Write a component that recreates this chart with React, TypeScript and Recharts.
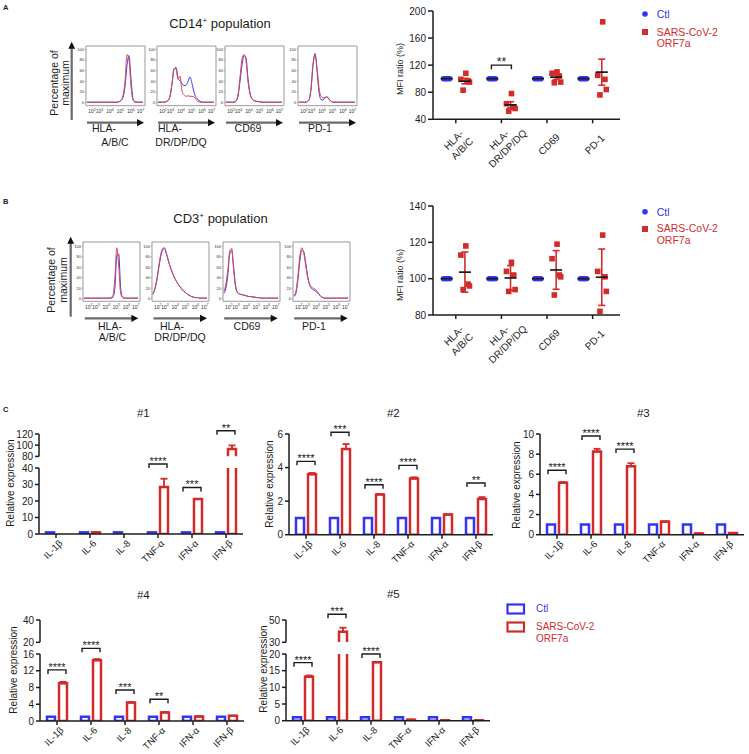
import React from "react";
import {
  LineChart, Line, XAxis, YAxis, ReferenceArea, ReferenceDot,
  ScatterChart, Scatter, ErrorBar, ComposedChart, Bar,
} from "recharts";

const FONT = '"Liberation Sans", Arial, Helvetica, sans-serif';
const BLUE = "#3434f4";
const RED = "#d22b2b";
const INK = "#1c1c1c";

// ─── Flow histograms: x in decade units, y in % of max ────────────────────────
const U = [1.6, 1.8, 2.0, 2.2, 2.4, 2.6, 2.8, 3.0, 3.2, 3.4, 3.6, 3.8, 4.0, 4.2, 4.4, 4.6, 4.8, 5.0, 5.2, 5.4, 5.6, 5.8, 6.0, 6.2, 6.4, 6.6, 6.8, 7.0, 7.2];
const DECADE_POS = [2.1, 2.85, 3.9, 4.95, 6.0, 6.95];
const DECADE_EXP = ["2", "3", "4", "5", "6", "7"];
const PCT_TICKS = [0, 20, 40, 60, 80, 100];

// CD14+ population
const A1_BLUE = [1, 1, 1, 1, 1, 1, 1, 1, 1, 1, 1, 1, 1, 1, 1, 1, 2, 4, 10, 30, 70, 88, 45, 8, 2, 1, 1, 1, 1];
const A1_RED = [1, 1, 1, 1, 1, 1, 1, 1, 1, 1, 1, 1, 1, 1, 1, 1, 2, 5, 14, 40, 90, 80, 30, 5, 1, 1, 1, 1, 1];
const A2_BLUE = [1, 1, 1, 1, 2, 4, 12, 35, 62, 66, 46, 41, 36, 32, 33, 40, 48, 36, 20, 10, 6, 3, 1, 1, 1, 1, 1, 1, 1];
const A2_RED = [1, 1, 1, 1, 2, 4, 12, 36, 64, 64, 44, 50, 22, 15, 12, 13, 12, 12, 11, 6, 2, 1, 1, 1, 1, 1, 1, 1, 1];
const A3_BLUE = [1, 1, 1, 1, 1, 3, 12, 40, 70, 88, 84, 45, 18, 8, 4, 3, 2, 2, 1, 1, 1, 1, 1, 1, 1, 1, 1, 1, 1];
const A3_RED = [1, 1, 1, 1, 1, 4, 15, 48, 82, 90, 78, 40, 16, 7, 4, 3, 2, 2, 1, 1, 1, 1, 1, 1, 1, 1, 1, 1, 1];
const A4_BLUE = [1, 1, 1, 1, 2, 5, 25, 70, 92, 60, 20, 6, 5, 9, 11, 7, 3, 1, 1, 1, 1, 1, 1, 1, 1, 1, 1, 1, 1];
const A4_RED = [1, 1, 1, 1, 2, 6, 28, 72, 90, 66, 28, 12, 9, 10, 11, 6, 3, 1, 1, 1, 1, 1, 1, 1, 1, 1, 1, 1, 1];

// CD3+ population
const B1_BLUE = [1, 1, 1, 1, 1, 1, 1, 1, 1, 1, 1, 1, 1, 1, 1, 3, 20, 82, 85, 20, 3, 1, 1, 1, 1, 1, 1, 1, 1];
const B1_RED = [1, 1, 1, 1, 1, 1, 1, 1, 1, 1, 1, 1, 1, 1, 2, 6, 40, 97, 60, 10, 2, 1, 1, 1, 1, 1, 1, 1, 1];
const B2_BLUE = [8, 18, 35, 58, 80, 93, 95, 85, 72, 60, 50, 41, 34, 28, 23, 18, 14, 11, 8, 6, 4, 3, 2, 2, 1, 1, 1, 1, 1];
const B2_RED = [9, 20, 38, 62, 84, 96, 97, 86, 72, 60, 50, 41, 34, 28, 23, 18, 14, 11, 8, 6, 4, 3, 2, 2, 1, 1, 1, 1, 1];
const B3_BLUE = [10, 20, 45, 85, 92, 60, 25, 12, 9, 8, 7, 6, 5, 4, 4, 3, 3, 2, 2, 1, 1, 1, 1, 1, 1, 1, 1, 1, 1];
const B3_RED = [14, 28, 55, 92, 96, 55, 22, 11, 9, 8, 7, 6, 5, 4, 4, 3, 3, 2, 2, 1, 1, 1, 1, 1, 1, 1, 1, 1, 1];
const B4_BLUE = [4, 10, 35, 70, 92, 90, 70, 45, 28, 20, 17, 15, 12, 8, 4, 2, 1, 1, 1, 1, 1, 1, 1, 1, 1, 1, 1, 1, 1];
const B4_RED = [6, 14, 42, 80, 97, 88, 65, 42, 28, 22, 20, 18, 14, 9, 4, 2, 1, 1, 1, 1, 1, 1, 1, 1, 1, 1, 1, 1, 1];

// ─── MFI ratio scatter ────────────────────────────────────────────────────────
const MARKER_LINES = [["HLA-", "A/B/C"], ["HLA-", "DR/DP/DQ"], ["CD69"], ["PD-1"]];
const CTL_MFI = [100, 100, 100, 100, 100];
const CD14_ORF = [[108, 99, 97, 95, 83], [78, 63, 58, 56, 52], [110, 108, 104, 95, 94], [184, 105, 99, 84, 76]];
const CD3_ORF = [[118, 113, 97, 96, 94], [109, 104, 102, 94, 93], [119, 111, 102, 101, 91], [124, 104, 101, 93, 82]];

// ─── qPCR relative expression ─────────────────────────────────────────────────
const GENES = ["IL-1β", "IL-6", "IL-8", "TNF-α", "IFN-α", "IFN-β"];
const CTL_REL = [1, 1, 1, 1, 1, 1];

const D1_ORF = [0, 1, 0, 28.5, 21.2, 93.2];
const D1_ERR = [0, 0, 0, 5, 0, 6.4];
const D1_SIG_AT = [null, null, null, 42.4, 28.2, 125.9];
const D1_SIG = ["", "", "", "****", "***", "**"];

const D2_ORF = [3.6, 5.1, 2.4, 3.35, 1.2, 2.12];
const D2_ERR = [0.08, 0.3, 0.03, 0.07, 0, 0.12];
const D2_SIG_AT = [4.37, 6.1, 2.98, 4.13, null, 3.08];
const D2_SIG = ["****", "***", "****", "****", "", "**"];

const D3_ORF = [5.15, 8.25, 6.8, 1.3, 0.12, 0.18];
const D3_ERR = [0.08, 0.28, 0.3, 0, 0, 0];
const D3_SIG_AT = [6.4, 9.8, 8.5, null, null, null];
const D3_SIG = ["****", "****", "****", "", "", ""];

const D4_ORF = [9.0, 14.5, 4.4, 2.05, 1.1, 1.25];
const D4_ERR = [0.35, 0.3, 0.1, 0.1, 0, 0];
const D4_SIG_AT = [12.2, 17.35, 7.4, 5.2, null, null];
const D4_SIG = ["****", "****", "***", "**", "", ""];

const D5_ORF = [13.2, 39.5, 17.5, 0.3, 0.15, 0.15];
const D5_ERR = [0.35, 3.6, 0.1, 0, 0, 0];
const D5_SIG_AT = [17.4, 55.1, 20.0, null, null, null];
const D5_SIG = ["****", "***", "****", "", "", ""];

// ─── layout constants ─────────────────────────────────────────────────────────
const CTL_JITTER = [-0.07, -0.035, 0, 0.035, 0.07];
const ORF_JITTER = [0.02, -0.09, 0.07, 0.1, -0.04];

const mean = (a: number[]) => a.reduce((s, v) => s + v, 0) / a.length;
const sd = (a: number[]) => {
  const m = mean(a);
  return Math.sqrt(a.reduce((s, v) => s + (v - m) ** 2, 0) / (a.length - 1));
};
const sem = (a: number[]) => sd(a) / Math.sqrt(a.length);

// ─── Histogram ────────────────────────────────────────────────────────────────
function DecadeTick(props: any) {
  const { x, y, index } = props;
  return (
    <text x={x} y={y + 7.5} textAnchor="middle" fontSize={5} fill="#333">
      10<tspan dy={-2.6} fontSize={3.6}>{DECADE_EXP[index]}</tspan>
    </text>
  );
}

function Histogram({ left, top, w, h, domainY, blue, red }: {
  left: number; top: number; w: number; h: number; domainY: [number, number]; blue: number[]; red: number[];
}) {
  const data = U.map((u, i) => ({ u, b: blue[i], r: red[i] }));
  return (
    <div style={{ position: "absolute", left: left - 12, top: top - 2 }}>
      <LineChart width={w + 14} height={h + 14} data={data} margin={{ top: 2, right: 2, bottom: 0, left: 0 }}>
        <XAxis type="number" dataKey="u" domain={[1.5, 7.4]} ticks={DECADE_POS} interval={0}
               tick={<DecadeTick />} tickSize={0} tickMargin={0} axisLine={false} tickLine={false}
               height={12} allowDataOverflow />
        <YAxis type="number" domain={domainY} ticks={PCT_TICKS} interval={0} width={12}
               tickSize={1.5} tickMargin={0.5} axisLine={false} tickLine={{ stroke: "#888", strokeWidth: 0.6 }}
               tick={{ fontSize: 4, fill: "#333" }} allowDataOverflow />
        <ReferenceArea x1={1.5} x2={7.4} y1={domainY[0]} y2={domainY[1]} stroke="#9a9a9a" strokeWidth={1}
                       fill="none" fillOpacity={0} />
        <Line dataKey="b" type="monotone" stroke={BLUE} strokeWidth={1} dot={false} isAnimationActive={false} />
        <Line dataKey="r" type="monotone" stroke="#e04848" strokeWidth={1} dot={false} isAnimationActive={false} />
      </LineChart>
    </div>
  );
}

// ─── Significance bracket ─────────────────────────────────────────────────────
function Bracket({ cx, cy, half, label, size }: { cx: number; cy: number; half: number; label: string; size: number }) {
  if (cx == null || cy == null) return <g />;
  return (
    <g>
      <path d={`M${cx - half},${cy + 4}V${cy}H${cx + half}V${cy + 4}`} fill="none" stroke={INK} strokeWidth={1.4} />
      <text x={cx} y={cy + 1} textAnchor="middle" fontSize={size} fill={INK}>{label}</text>
    </g>
  );
}

// ─── MFI scatter ──────────────────────────────────────────────────────────────
function MarkerTick(props: any) {
  const { x, y, payload } = props;
  const lines = MARKER_LINES[Math.round(payload.value) - 1] ?? [];
  return (
    <g transform={`translate(${x + 2},${y + 19}) rotate(-45)`}>
      {lines.map((l, k) => (
        <text key={k} x={0} y={(k - (lines.length - 1) / 2) * 12 + 3.5} textAnchor="middle" fontSize={10} fill={INK}>
          {l}
        </text>
      ))}
    </g>
  );
}

function MfiPanel({ top, plotH, domain, ticks, orf, spread, sigs }: {
  top: number; plotH: number; domain: [number, number]; ticks: number[]; orf: number[][];
  spread: (a: number[]) => number; sigs: { x: number; y: number; label: string }[];
}) {
  const axisX = 433;
  const ctlPts = orf.flatMap((_, i) => CTL_MFI.map((v, j) => ({ x: i + 1 - 0.2 + CTL_JITTER[j], y: v })));
  const orfPts = orf.flatMap((vals, i) => vals.map((v, j) => ({ x: i + 1 + 0.2 + ORF_JITTER[j], y: v })));
  const ctlMean = orf.map((_, i) => ({ x: i + 1 - 0.2, y: mean(CTL_MFI) }));
  const orfMean = orf.map((vals, i) => ({ x: i + 1 + 0.2, y: mean(vals), e: spread(vals) }));
  const meanShape = (p: any) => (
    <line x1={p.cx - 6} x2={p.cx + 6} y1={p.cy} y2={p.cy} stroke={INK} strokeWidth={1.7} />
  );
  const axisStyle = { stroke: INK, strokeWidth: 1.5 };
  return (
    <div style={{ position: "absolute", left: axisX - 40, top: top - 12 }}>
      <ScatterChart width={40 + 187 + 4} height={12 + plotH + 62} margin={{ top: 12, right: 4, bottom: 0, left: 0 }}>
        <XAxis type="number" dataKey="x" domain={[0.5, 4.6]} ticks={[1, 2, 3, 4]} interval={0}
               tick={<MarkerTick />} tickSize={4} tickMargin={2} height={62}
               axisLine={axisStyle} tickLine={axisStyle} allowDataOverflow />
        <YAxis type="number" dataKey="y" domain={domain} ticks={ticks} interval={0} width={40}
               tickSize={5} tickMargin={2} axisLine={axisStyle} tickLine={axisStyle}
               tick={{ fontSize: 10, fill: INK }} allowDataOverflow />
        <Scatter data={ctlPts} isAnimationActive={false}
                 shape={(p: any) => <circle cx={p.cx} cy={p.cy} r={2.7} fill={BLUE} />} />
        <Scatter data={orfPts} isAnimationActive={false}
                 shape={(p: any) => <rect x={p.cx - 2.8} y={p.cy - 2.8} width={5.6} height={5.6} fill={RED} />} />
        <Scatter data={ctlMean} isAnimationActive={false} shape={meanShape} />
        <Scatter data={orfMean} isAnimationActive={false} shape={meanShape}>
          <ErrorBar dataKey="e" direction="y" width={3.5} stroke={RED} strokeWidth={1.6} isAnimationActive={false} />
        </Scatter>
        {sigs.map((s) => (
          <ReferenceDot key={s.x} x={s.x} y={s.y} r={0} ifOverflow="visible"
                        shape={(p: any) => <Bracket cx={p.cx} cy={p.cy} half={10} label={s.label} size={12} />} />
        ))}
      </ScatterChart>
    </div>
  );
}

// ─── Relative expression bars ─────────────────────────────────────────────────
type Seg = { top: number; bottom: number; domain: [number, number]; ticks: number[] };
const PAD_L = 34;
const PAD_T = 26;
const PAD_HI_B = 9;
const PLOT_W = 34 * 6;

function GeneTick(props: any) {
  const { x, y, payload } = props;
  return (
    <text transform={`translate(${x + 7},${y + 4}) rotate(-45)`} textAnchor="end" fontSize={9.5} fill={INK}>
      {payload.value}
    </text>
  );
}

const openBottom = (color: string) => (p: any) => {
  if (!(p.height > 0)) return <g />;
  const { x, y, width, height } = p;
  return (
    <path d={`M${x},${y + height}V${y}H${x + width}V${y + height}`} fill="#fff" stroke={color} strokeWidth={2.5} />
  );
};

function ExprPanel({ axisX, lo, hi, orf, err, sigAt, sig }: {
  axisX: number; lo: Seg; hi?: Seg; orf: number[]; err: number[]; sigAt: (number | null)[]; sig: string[];
}) {
  const rows = GENES.map((g, i) => ({ g, ctl: CTL_REL[i], orf: orf[i], err: [0, err[i]] }));
  const axisStyle = { stroke: INK, strokeWidth: 1.5 };
  const yProps = {
    width: PAD_L, tickSize: 4, tickMargin: 2, axisLine: axisStyle, tickLine: axisStyle,
    tick: { fontSize: 10, fill: INK }, allowDataOverflow: true, interval: 0 as const,
  };
  const marks = (isHi: boolean) =>
    GENES.map((g, i) => {
      const v = sigAt[i];
      if (v == null) return null;
      const inHi = !!hi && v >= hi.domain[0];
      if (inHi !== isHi) return null;
      return (
        <ReferenceDot key={g} x={g} y={v} r={0} ifOverflow="visible"
                      shape={(p: any) => <Bracket cx={p.cx} cy={p.cy} half={9} label={sig[i]} size={11} />} />
      );
    });

  let upper = null;
  if (hi) {
    const hiMin = hi.domain[0];
    const hiRows = rows.map((r) => ({
      g: r.g, ctl: null,
      orf: r.orf >= hiMin ? r.orf : null,
      err: r.orf >= hiMin ? r.err : null,
    }));
    upper = (
      <div style={{ position: "absolute", left: axisX - PAD_L, top: hi.top - PAD_T }}>
        <ComposedChart width={PAD_L + PLOT_W + 8} height={PAD_T + hi.bottom - hi.top + PAD_HI_B} data={hiRows}
                       margin={{ top: PAD_T, right: 8, bottom: PAD_HI_B, left: 0 }} barSize={8} barGap={4}>
          <XAxis dataKey="g" hide />
          <YAxis type="number" domain={hi.domain} ticks={hi.ticks} {...yProps} />
          <Bar dataKey="ctl" fill="#fff" stroke={BLUE} strokeWidth={2.5} isAnimationActive={false} />
          <Bar dataKey="orf" fill="#fff" stroke={RED} strokeWidth={2.5} shape={openBottom(RED)} isAnimationActive={false}>
            <ErrorBar dataKey="err" direction="y" width={3.5} stroke={RED} strokeWidth={1.8} isAnimationActive={false} />
          </Bar>
          {marks(true)}
        </ComposedChart>
      </div>
    );
  }

  return (
    <>
      {upper}
      <div style={{ position: "absolute", left: axisX - PAD_L, top: lo.top - PAD_T }}>
        <ComposedChart width={PAD_L + PLOT_W + 8} height={PAD_T + lo.bottom - lo.top + 44} data={rows}
                       margin={{ top: PAD_T, right: 8, bottom: 0, left: 0 }} barSize={8} barGap={4}>
          <XAxis dataKey="g" interval={0} height={44} tickSize={4} tickMargin={2} tick={<GeneTick />}
                 axisLine={axisStyle} tickLine={axisStyle} />
          <YAxis type="number" domain={lo.domain} ticks={lo.ticks} {...yProps} />
          <Bar dataKey="ctl" fill="#fff" stroke={BLUE} strokeWidth={2.5} isAnimationActive={false} />
          <Bar dataKey="orf" fill="#fff" stroke={RED} strokeWidth={2.5} isAnimationActive={false}>
            <ErrorBar dataKey="err" direction="y" width={3.5} stroke={RED} strokeWidth={1.8} isAnimationActive={false} />
          </Bar>
          {marks(false)}
        </ComposedChart>
      </div>
    </>
  );
}

// ─── Static labels, arrows, legends ───────────────────────────────────────────
const A_LEFTS = [86, 157, 225, 298];
const B_LEFTS = [83.3, 152, 222.7, 292.7];
const A_LABEL_X = [[104, 115], [170, 181], [248], [320]];
const B_LABEL_X = [[110, 112.5], [172, 180], [247], [314]];

function HArrow({ x1, x2, y }: { x1: number; x2: number; y: number }) {
  return (
    <g>
      <line x1={x1} y1={y} x2={x2 - 5} y2={y} stroke="#6a6a6a" strokeWidth={2.2} />
      <path d={`M${x2 - 7},${y - 3.6}L${x2},${y}L${x2 - 7},${y + 3.6}Z`} fill="#111" />
    </g>
  );
}

function VArrow({ x, y1, y2 }: { x: number; y1: number; y2: number }) {
  return (
    <g>
      <line x1={x} y1={y1} x2={x} y2={y2 + 5} stroke="#6a6a6a" strokeWidth={2.2} />
      <path d={`M${x - 3.4},${y2 + 7}L${x},${y2}L${x + 3.4},${y2 + 7}Z`} fill="#111" />
    </g>
  );
}

function RotLabel({ x, y, lines, size, gap }: { x: number; y: number; lines: string[]; size: number; gap: number }) {
  return (
    <g transform={`translate(${x},${y}) rotate(-90)`}>
      {lines.map((l, k) => (
        <text key={k} x={0} y={k * gap} textAnchor="middle" fontSize={size} fill={INK}>{l}</text>
      ))}
    </g>
  );
}

function Decor() {
  const relX = [[13.6, 483], [272.6, 484], [520.3, 485], [17, 670], [267, 669]];
  return (
    <svg width={749} height={754} style={{ position: "absolute", left: 0, top: 0 }} fontFamily={FONT}>
      <text x={3} y={9.5} fontSize={7.5} fontWeight="bold" fill={INK}>A</text>
      <text x={3} y={203.5} fontSize={7.5} fontWeight="bold" fill={INK}>B</text>
      <text x={3} y={412} fontSize={7.5} fontWeight="bold" fill={INK}>C</text>

      <text x={220} y={27.5} textAnchor="middle" fontSize={13} fill={INK}>
        CD14<tspan dy={-5} fontSize={8}>+</tspan><tspan dy={5}> population</tspan>
      </text>
      <text x={220.5} y={222.5} textAnchor="middle" fontSize={13} fill={INK}>
        CD3<tspan dy={-5} fontSize={8}>+</tspan><tspan dy={5}> population</tspan>
      </text>

      <RotLabel x={57.5} y={83} lines={["Percentage of", "maximum"]} size={10.5} gap={11.5} />
      <RotLabel x={55.3} y={280} lines={["Percentage of", "maximum"]} size={10.5} gap={11.5} />
      <VArrow x={71.7} y1={120} y2={41.7} />
      <VArrow x={70.7} y1={316.7} y2={236.7} />

      {A_LEFTS.map((l) => <HArrow key={`a${l}`} x1={l + 1} x2={l + 58} y={122.7} />)}
      {B_LEFTS.map((l) => <HArrow key={`b${l}`} x1={l + 1.5} x2={l + 55} y={318.3} />)}
      {MARKER_LINES.map((lines, i) =>
        lines.map((t, k) => (
          <text key={`al${i}${k}`} x={A_LABEL_X[i][k]} y={132.3 + k * 13.5} textAnchor="middle" fontSize={10.5} fill={INK}>{t}</text>
        ))
      )}
      {MARKER_LINES.map((lines, i) =>
        lines.map((t, k) => (
          <text key={`bl${i}${k}`} x={B_LABEL_X[i][k]} y={329.7 + k * 10.8} textAnchor="middle" fontSize={10.5} fill={INK}>{t}</text>
        ))
      )}

      <RotLabel x={402.5} y={69} lines={["MFI ratio (%)"]} size={9} gap={0} />
      <RotLabel x={402.5} y={275} lines={["MFI ratio (%)"]} size={9} gap={0} />

      <circle cx={645} cy={14} r={2.8} fill={BLUE} />
      <text x={656.7} y={17.8} fontSize={10.5} fill={BLUE}>Ctl</text>
      <rect x={642} y={29} width={6} height={6} fill={RED} />
      <text x={656.7} y={35.5} fontSize={10.5} fill={RED}>SARS-CoV-2</text>
      <text x={656.7} y={46.8} fontSize={10.5} fill={RED}>ORF7a</text>

      <circle cx={645} cy={211.7} r={2.8} fill={BLUE} />
      <text x={656.7} y={215.5} fontSize={10.5} fill={BLUE}>Ctl</text>
      <rect x={642} y={226} width={6} height={6} fill={RED} />
      <text x={656.7} y={232} fontSize={10.5} fill={RED}>SARS-CoV-2</text>
      <text x={656.7} y={243.7} fontSize={10.5} fill={RED}>ORF7a</text>

      {[["#1", 143.3, 417], ["#2", 393.3, 417], ["#3", 643.3, 417], ["#4", 143.3, 599], ["#5", 393.3, 597.7]].map(
        ([t, x, y]) => (
          <text key={t as string} x={x as number} y={y as number} textAnchor="middle" fontSize={11.5} fill={INK}>{t}</text>
        )
      )}
      {relX.map(([x, y], i) => (
        <RotLabel key={`r${i}`} x={x} y={y} lines={["Relative expression"]} size={10} gap={0} />
      ))}

      <rect x={507.5} y={604.5} width={16.5} height={9} fill="#fff" stroke={BLUE} strokeWidth={2.2} />
      <text x={536} y={612.4} fontSize={10} fill={BLUE}>Ctl</text>
      <rect x={507.5} y={622.5} width={16.5} height={9} fill="#fff" stroke={RED} strokeWidth={2.2} />
      <text x={536} y={630.3} fontSize={10} fill={RED}>SARS-CoV-2</text>
      <text x={536} y={641.7} fontSize={10} fill={RED}>ORF7a</text>
    </svg>
  );
}

export default function App() {
  const cd14 = [[A1_BLUE, A1_RED], [A2_BLUE, A2_RED], [A3_BLUE, A3_RED], [A4_BLUE, A4_RED]];
  const cd3 = [[B1_BLUE, B1_RED], [B2_BLUE, B2_RED], [B3_BLUE, B3_RED], [B4_BLUE, B4_RED]];
  return (
    <div style={{ position: "absolute", left: 0, top: 0, width: 749, height: 754, background: "#fff", fontFamily: FONT, overflow: "hidden" }}>
      <Decor />
      {cd14.map(([b, r], i) => (
        <Histogram key={`h14${i}`} left={A_LEFTS[i]} top={46} w={59} h={59.7} domainY={[-5.5, 106]} blue={b} red={r} />
      ))}
      {cd3.map(([b, r], i) => (
        <Histogram key={`h3${i}`} left={B_LEFTS[i]} top={241.7} w={57} h={59.3} domainY={[-5, 108]} blue={b} red={r} />
      ))}

      <MfiPanel top={10.7} plotH={108.3} domain={[40, 200]} ticks={[40, 80, 120, 160, 200]}
                orf={CD14_ORF} spread={sem} sigs={[{ x: 2, y: 120, label: "**" }]} />
      <MfiPanel top={205.7} plotH={109} domain={[80, 140]} ticks={[80, 100, 120, 140]}
                orf={CD3_ORF} spread={sd} sigs={[]} />

      <ExprPanel axisX={38.5}
                 lo={{ top: 468.3, bottom: 534.3, domain: [0, 40], ticks: [0, 10, 20, 30, 40] }}
                 hi={{ top: 434.3, bottom: 456.7, domain: [80, 120], ticks: [80, 100, 120] }}
                 orf={D1_ORF} err={D1_ERR} sigAt={D1_SIG_AT} sig={D1_SIG} />
      <ExprPanel axisX={289.3}
                 lo={{ top: 434.3, bottom: 535, domain: [0, 6], ticks: [0, 2, 4, 6] }}
                 orf={D2_ORF} err={D2_ERR} sigAt={D2_SIG_AT} sig={D2_SIG} />
      <ExprPanel axisX={540}
                 lo={{ top: 434.3, bottom: 535, domain: [0, 10], ticks: [0, 2, 4, 6, 8, 10] }}
                 orf={D3_ORF} err={D3_ERR} sigAt={D3_SIG_AT} sig={D3_SIG} />
      <ExprPanel axisX={40}
                 lo={{ top: 654, bottom: 721, domain: [0, 16], ticks: [0, 4, 8, 12, 16] }}
                 hi={{ top: 620, bottom: 642.3, domain: [20, 40], ticks: [20, 40] }}
                 orf={D4_ORF} err={D4_ERR} sigAt={D4_SIG_AT} sig={D4_SIG} />
      <ExprPanel axisX={286}
                 lo={{ top: 654, bottom: 720.7, domain: [0, 20], ticks: [0, 5, 10, 15, 20] }}
                 hi={{ top: 620, bottom: 642.3, domain: [30, 50], ticks: [30, 50] }}
                 orf={D5_ORF} err={D5_ERR} sigAt={D5_SIG_AT} sig={D5_SIG} />
    </div>
  );
}
